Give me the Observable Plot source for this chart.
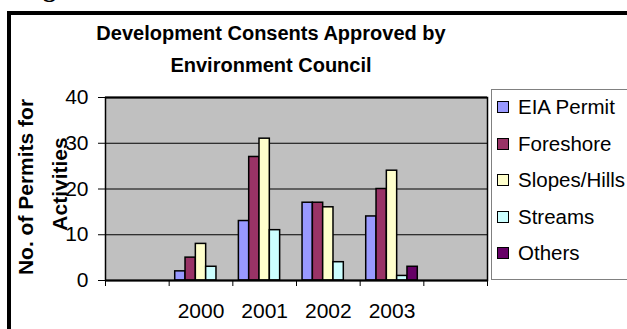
<!DOCTYPE html>
<html><head><meta charset="utf-8">
<script src="https://cdn.jsdelivr.net/npm/d3@7"></script>
<script src="https://cdn.jsdelivr.net/npm/@observablehq/plot@0.6"></script>
<style>
html,body{margin:0;padding:0;background:#fff;}
body{width:627px;height:329px;overflow:hidden;position:relative;font-family:"Liberation Sans",Arial,sans-serif;color:#000;}
#frame{position:absolute;left:7px;top:11px;width:760px;height:420px;border:4px solid #000;box-sizing:border-box;}
#chart{position:absolute;left:0;top:0;}
#overlay{position:absolute;left:0;top:0;}
#legend{position:absolute;left:491px;top:89px;width:200px;height:191px;border:1px solid #808080;box-sizing:border-box;background:#fff;}
.item{position:absolute;left:5px;height:24px;display:flex;align-items:center;white-space:nowrap;font-size:20.5px;}
.sw{width:12px;height:12px;border:1.5px solid #000;box-sizing:border-box;margin-right:9px;}
</style></head><body>
<div id="frame"></div>
<div id="chart"></div>
<div id="legend"></div>
<svg id="overlay" width="627" height="329" font-family="Liberation Sans, Arial, sans-serif">
  <text x="20" y="-3" font-family="Liberation Serif, Times New Roman, serif" font-weight="bold" font-size="26">Figure</text>
  <text x="271" y="40" text-anchor="middle" font-weight="bold" font-size="20">Development Consents Approved by</text>
  <text x="271" y="72" text-anchor="middle" font-weight="bold" font-size="20">Environment Council</text>
  <text transform="translate(33,187) rotate(-90)" text-anchor="middle" font-weight="bold" font-size="21">No. of Permits for</text>
  <text transform="translate(67,184) rotate(-90)" text-anchor="middle" font-weight="bold" font-size="21">Activities</text>
</svg>
<script>
// Category slots on the x axis (blank slots at both ends, as in the original)
const slots = ["", "2000", "2001", "2002", "2003", ""];
const years = ["2000", "2001", "2002", "2003"];
const seriesNames = ["EIA Permit", "Foreshore", "Slopes/Hills", "Streams", "Others"];
const seriesColors = ["#9999FF", "#993366", "#FFFFCC", "#CCFFFF", "#660066"];
const eiaPermit   = [2, 13, 17, 14];
const foreshore   = [5, 27, 17, 20];
const slopesHills = [8, 31, 16, 24];
const streams     = [3, 11, 4, 1];
const others      = [0, 0, 0, 3];
const yTicks = [0, 10, 20, 30, 40];

const seriesValues = [eiaPermit, foreshore, slopesHills, streams, others];
const barW = 0.162;
const pad = (1 - seriesNames.length * barW) / 2;
const rows = [];
years.forEach((yr, j) => {
  const s = slots.indexOf(yr);
  seriesNames.forEach((name, k) => {
    const v = seriesValues[k][j];
    if (v > 0) rows.push({series: name, x1: s + pad + k * barW, x2: s + pad + (k + 1) * barW, value: v});
  });
});

const chart = Plot.plot({
  width: 627, height: 329,
  marginLeft: 105, marginRight: 140, marginTop: 97, marginBottom: 49,
  x: {domain: [0, slots.length], axis: null},
  y: {domain: [0, 40], axis: null},
  color: {domain: seriesNames, range: seriesColors},
  style: {fontFamily: "Liberation Sans, Arial, sans-serif", fontSize: "21px", color: "#000", background: "transparent", overflow: "visible"},
  marks: [
    Plot.frame({fill: "#c0c0c0"}),
    Plot.ruleY([10, 20, 30], {stroke: "#000", strokeWidth: 1}),
    Plot.rect(rows, {x1: "x1", x2: "x2", y1: 0, y2: "value", fill: "series", stroke: "#000", strokeWidth: 1.5}),
    Plot.frame({stroke: "#000", strokeWidth: 1.5}),
    Plot.ruleY([0, 40], {stroke: "#000", strokeWidth: 2}),
    Plot.axisY(yTicks, {tickSize: 7, tickPadding: 10, fontSize: 21, label: null, tickFormat: d => String(d)}),
    Plot.axisX(d3.range(0, slots.length + 1), {tickSize: 6, tickFormat: () => "", label: null}),
    Plot.axisX(years.map(y => slots.indexOf(y) + 0.5), {tickSize: 0, tickPadding: 23, fontSize: 21, label: null, tickFormat: d => slots[Math.floor(d)]})
  ]
});
document.getElementById("chart").appendChild(chart);

const legend = document.getElementById("legend");
seriesNames.forEach((name, i) => {
  const it = document.createElement("div");
  it.className = "item";
  it.style.top = (5 + i * 36.6) + "px";
  const sw = document.createElement("div");
  sw.className = "sw";
  sw.style.background = seriesColors[i];
  const t = document.createElement("span");
  t.textContent = name;
  it.appendChild(sw); it.appendChild(t);
  legend.appendChild(it);
});
</script>
</body></html>
